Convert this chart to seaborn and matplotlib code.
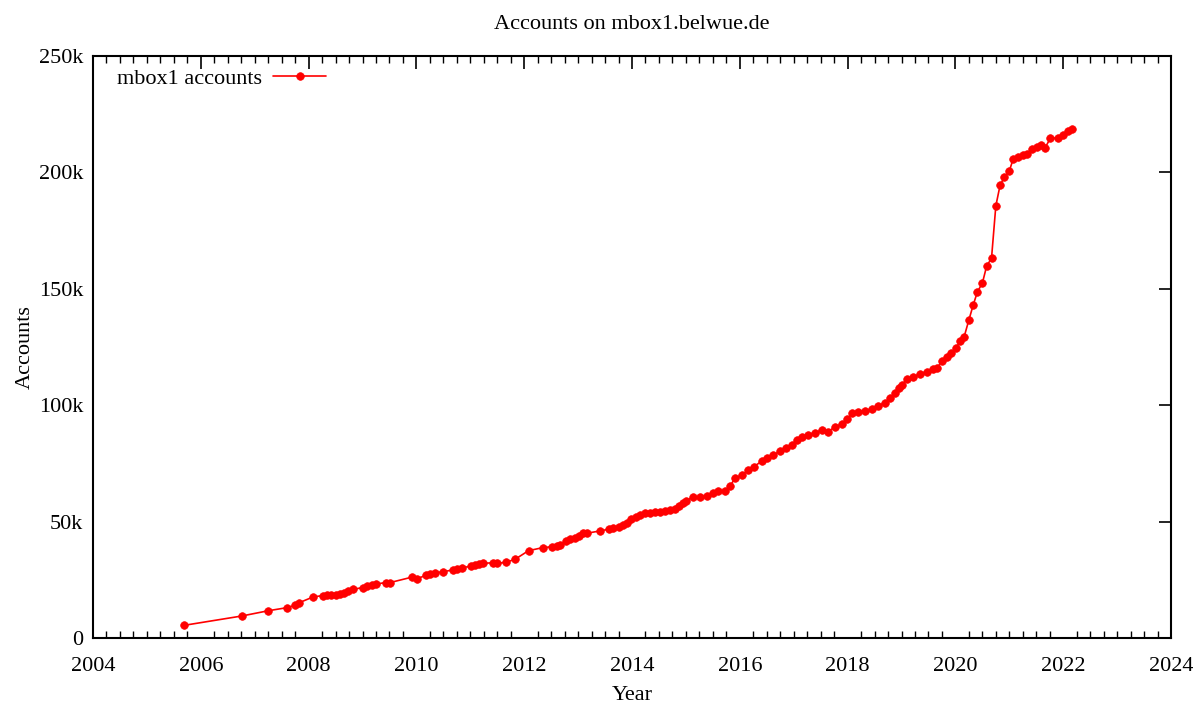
import numpy as np
import pandas as pd
import matplotlib
matplotlib.use("Agg")
import matplotlib.pyplot as plt
import seaborn as sns
from matplotlib.ticker import MultipleLocator, FuncFormatter

years = [2005.68, 2006.76, 2007.25, 2007.59, 2007.75, 2007.83, 2008.09, 2008.26, 2008.34,
         2008.42, 2008.50, 2008.58, 2008.66, 2008.74, 2008.83, 2009.00, 2009.09, 2009.17,
         2009.25, 2009.43, 2009.51, 2009.91, 2010.01, 2010.18, 2010.25, 2010.35, 2010.50,
         2010.67, 2010.76, 2010.84, 2011.01, 2011.09, 2011.17, 2011.24, 2011.42, 2011.50,
         2011.66, 2011.83, 2012.08, 2012.34, 2012.51, 2012.60, 2012.66, 2012.77, 2012.85,
         2012.94, 2013.02, 2013.10, 2013.16, 2013.41, 2013.58, 2013.65, 2013.75, 2013.84,
         2013.91, 2013.99, 2014.07, 2014.15, 2014.24, 2014.33, 2014.43, 2014.52, 2014.61,
         2014.71, 2014.80, 2014.88, 2014.95, 2015.01, 2015.14, 2015.26, 2015.39, 2015.51,
         2015.60, 2015.73, 2015.82, 2015.91, 2016.04, 2016.16, 2016.26, 2016.41, 2016.51,
         2016.62, 2016.75, 2016.86, 2016.96, 2017.06, 2017.15, 2017.27, 2017.40, 2017.52,
         2017.64, 2017.77, 2017.89, 2017.99, 2018.08, 2018.20, 2018.32, 2018.45, 2018.57,
         2018.69, 2018.79, 2018.88, 2018.96, 2019.00, 2019.10, 2019.22, 2019.34, 2019.47,
         2019.59, 2019.66, 2019.75, 2019.84, 2019.92, 2020.01, 2020.09, 2020.16, 2020.25,
         2020.33, 2020.41, 2020.50, 2020.58, 2020.67, 2020.75, 2020.83, 2020.91, 2021.00,
         2021.07, 2021.17, 2021.26, 2021.33, 2021.42, 2021.51, 2021.58, 2021.66, 2021.76,
         2021.91, 2022.00, 2022.09, 2022.16]

accounts_k = [5.4, 9.45, 11.7, 13.0, 14.0, 15.2, 17.7, 18.2, 18.3,
              18.6, 18.3, 18.8, 19.5, 20.1, 21.0, 21.6, 22.5, 22.9,
              23.2, 23.8, 23.8, 26.1, 25.5, 26.9, 27.4, 28.0, 28.5,
              29.2, 29.8, 30.2, 30.8, 31.5, 31.8, 32.1, 32.3, 32.1,
              32.5, 33.8, 37.5, 38.8, 39.2, 39.5, 39.8, 41.7, 42.4,
              43.1, 43.8, 45.0, 45.0, 46.0, 46.8, 47.1, 47.6, 48.4,
              49.5, 51.1, 52.1, 53.0, 53.6, 53.6, 54.0, 54.3, 54.6,
              55.0, 55.4, 56.7, 57.9, 59.0, 60.7, 60.4, 61.1, 62.2,
              63.3, 63.3, 65.3, 68.6, 70.0, 72.2, 73.6, 76.0, 77.2,
              78.6, 80.3, 81.5, 82.9, 85.1, 86.5, 87.2, 88.2, 89.3,
              88.6, 90.8, 91.8, 93.9, 96.5, 97.2, 97.5, 98.2, 99.7,
              101.1, 103.0, 105.1, 107.3, 108.7, 111.1, 112.2, 113.4, 114.4,
              115.5, 115.9, 119.1, 120.8, 122.3, 124.4, 127.7, 129.2, 136.6,
              143.0, 148.8, 152.4, 159.8, 163.1, 185.6, 194.6, 197.9, 200.6,
              205.6, 206.7, 207.5, 207.8, 209.9, 211.0, 211.8, 210.4, 214.6,
              214.9, 216.1, 217.9, 218.5]

series_label = "mbox1 accounts"
title = "Accounts on mbox1.belwue.de"
x_label = "Year"
y_label = "Accounts"

df = pd.DataFrame({"Year": years, "Accounts": np.array(accounts_k) * 1000})

sns.set_style("white")
plt.rcParams["font.family"] = ["Liberation Serif", "DejaVu Serif"]
plt.rcParams["text.color"] = "black"
plt.rcParams["axes.labelcolor"] = "black"
plt.rcParams["xtick.color"] = "black"
plt.rcParams["ytick.color"] = "black"

fig = plt.figure(figsize=(11.93, 7.04), dpi=100)
ax = fig.add_axes([93 / 1193, 1 - 638 / 704, (1171 - 93) / 1193, (638 - 56) / 704])

sns.lineplot(data=df, x="Year", y="Accounts", ax=ax, color="#ff0000", marker="o",
             markersize=5.5, markeredgecolor="#ff0000", markeredgewidth=0.5,
             linewidth=1.2, label=series_label)

ax.set_xlim(2004, 2024)
ax.set_ylim(0, 250000)
ax.xaxis.set_major_locator(MultipleLocator(2))
ax.xaxis.set_minor_locator(MultipleLocator(0.25))
ax.yaxis.set_major_locator(MultipleLocator(50000))
ax.yaxis.set_major_formatter(FuncFormatter(lambda v, p: "0" if v == 0 else f"{int(v/1000)}k"))
ax.xaxis.set_major_formatter(FuncFormatter(lambda v, p: f"{int(round(v))}"))

for s in ax.spines.values():
    s.set_color("black")
    s.set_linewidth(1.5)
ax.tick_params(axis="both", which="major", direction="in", length=9, width=1.2,
               top=True, right=True, labelsize=16, colors="black", labelcolor="black")
ax.tick_params(axis="x", which="major", pad=13.5)
ax.tick_params(axis="y", which="major", pad=7)
ax.tick_params(axis="x", which="minor", direction="in", length=5, width=1.0,
               top=True, bottom=True)

ax.set_title(title, fontsize=16, pad=19.5, color="black")
ax.set_xlabel(x_label, fontsize=16, labelpad=7.5, color="black")
ax.set_ylabel(y_label, fontsize=16, labelpad=3, color="black")

leg = ax.legend(loc="upper left", frameon=False, markerfirst=False, fontsize=16,
                handlelength=2.4, handletextpad=0.5, borderpad=0, borderaxespad=0,
                bbox_to_anchor=(24 / 1078, 1 - 12 / 582))
for t in leg.get_texts():
    t.set_color("black")

fig.savefig("out.png", dpi=100)
